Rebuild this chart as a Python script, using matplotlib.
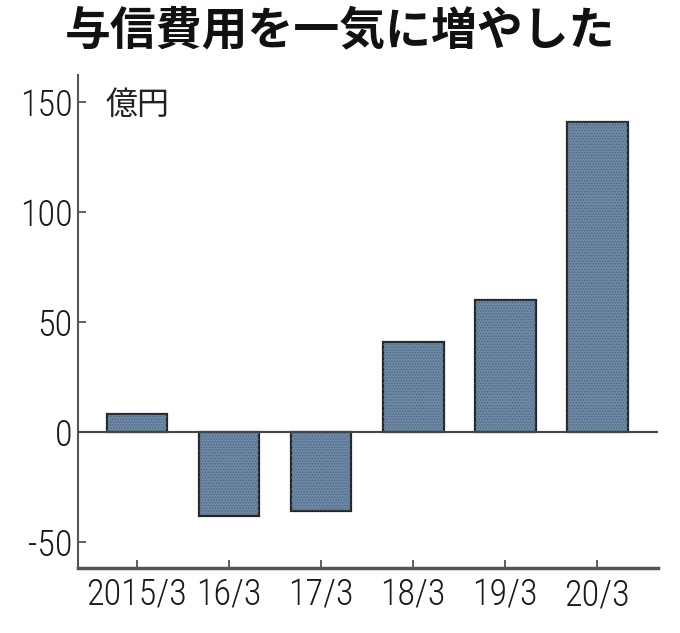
import matplotlib
matplotlib.use("Agg")
import matplotlib.pyplot as plt

# 与信費用 (億円)
periods = ["2015/3", "16/3", "17/3", "18/3", "19/3", "20/3"]
credit_costs = [8, -38, -36, 41, 60, 141]
yticks = [-50, 0, 50, 100, 150]
ytick_labels = ["-50", "0", "50", "100", "150"]

plt.rcParams["font.family"] = ["Noto Sans CJK JP", "DejaVu Sans"]
plt.rcParams["hatch.linewidth"] = 0.6

fig = plt.figure(figsize=(6.8, 6.33), dpi=100)
ax = fig.add_axes([0.1147, 0.1027, 0.853, 0.7788])

x = range(len(periods))
ax.bar(x, credit_costs, width=0.66, color="#6d89a5", edgecolor="#262626",
       linewidth=1.6, zorder=2)
# dotted screen texture
ax.bar(x, credit_costs, width=0.66, color="none", edgecolor="#4d6580",
       hatch="......", linewidth=0, zorder=3)
ax.axhline(0, color="#444444", linewidth=1.5, zorder=4)

ax.set_xlim(-0.64, 5.66)
ax.set_ylim(-61.8, 162.3)
ax.set_xticks(list(x))
ax.set_xticklabels(periods)
ax.set_yticks(yticks)
ax.set_yticklabels(ytick_labels)

tick_font = ["Liberation Sans Narrow", "Roboto Condensed", "Archivo Narrow",
             "PT Sans Narrow", "Noto Sans CJK JP"]
for lab in ax.get_xticklabels() + ax.get_yticklabels():
    lab.set_family(tick_font)
    lab.set_fontsize(26)
    lab.set_fontweight("light")
    lab.set_color("#1a1a1a")

ax.tick_params(axis="both", direction="in", length=6, width=1.2,
               color="#444444")
ax.tick_params(axis="y", pad=4)
ax.tick_params(axis="x", pad=7)
for side in ("top", "right"):
    ax.spines[side].set_visible(False)
ax.spines["left"].set_color("#555555")
ax.spines["left"].set_linewidth(1.5)
ax.spines["bottom"].set_color("#555555")
ax.spines["bottom"].set_linewidth(2.5)

ax.text(0.047, 0.939, "億円", transform=ax.transAxes, fontsize=23,
        color="#222222", va="center", ha="left")

fig.text(0.5, 0.951, "与信費用を一気に増やした", ha="center", va="center",
         fontsize=33, fontweight="bold", color="#111111")

fig.savefig("out.png", dpi=100)
